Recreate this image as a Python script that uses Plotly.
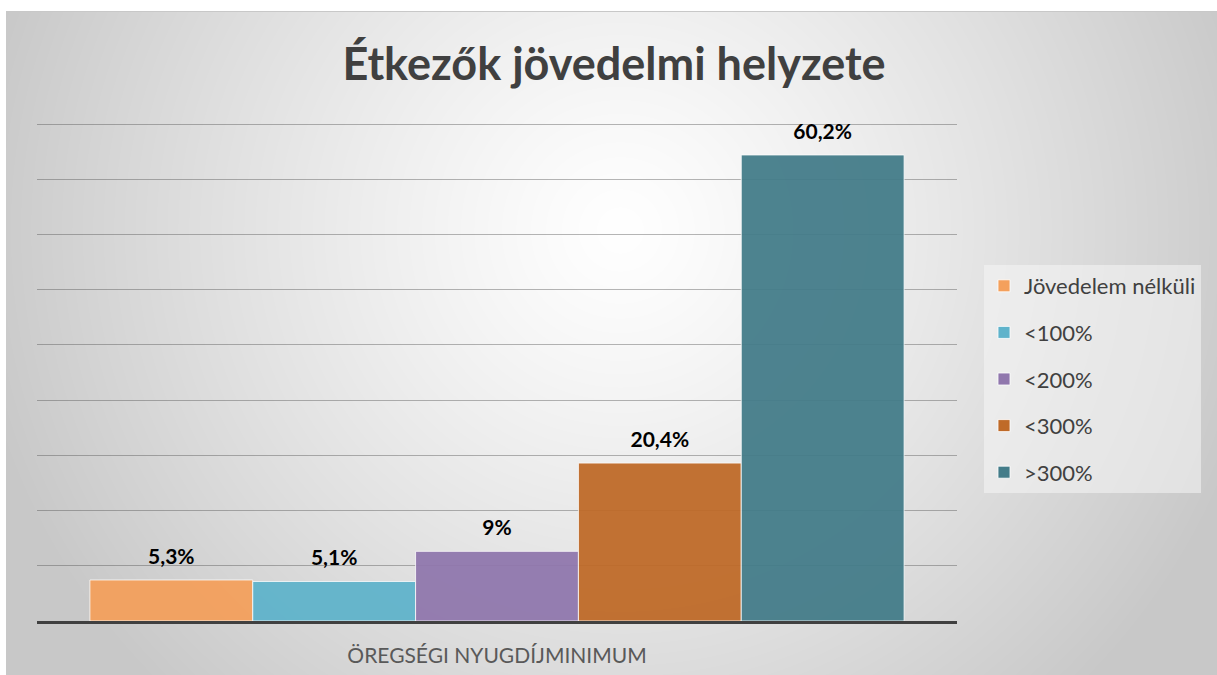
import base64, struct, zlib
import numpy as np
import plotly.graph_objects as go

# ---- data ----
category = ["ÖREGSÉGI NYUGDÍJMINIMUM"]
series_names = ["Jövedelem nélküli", "<100%", "<200%", "<300%", ">300%"]
series_values = [5.3, 5.1, 9, 20.4, 60.2]
series_colors = ["#F4A05C", "#5FB3CB", "#9077AD", "#BF6A28", "#437C89"]
title_text = "Étkezők jövedelmi helyzete"
grid_step = 64.2 / 9   # spacing of the horizontal gridlines (value units)
grid_count = 9

# ---- geometry ----
W, H = 1217, 675
ML, MR, MT, MB = 37, 260, 110, 54
PW, PH = W - ML - MR, H - MT - MB
TOP_GRID_PX = 124      # pixel row of the highest gridline
BG_X0, BG_Y0 = 6, 11   # gray panel origin (pixels)
FONT = "Lato, sans-serif"

y_top = grid_step * grid_count * PH / ((H - MB) - TOP_GRID_PX)


def gradient_png():
    w, h = W - BG_X0, H - BG_Y0
    ys, xs = np.mgrid[0:h, 0:w].astype(float)
    xs += BG_X0
    ys += BG_Y0
    cx, cy, rx, ry = 620.0, 230.0, 660.0, 650.0
    r = np.sqrt(((xs - cx) / rx) ** 2 + ((ys - cy) / ry) ** 2)
    val = 255 - 55 * np.clip(r, 0, 1) ** 1.2
    arr = np.clip(val, 0, 255).astype(np.uint8)
    arr[0, :] = 200
    raw = b"".join(b"\x00" + arr[i].tobytes() for i in range(h))

    def chunk(t, d):
        c = struct.pack(">I", len(d)) + t + d
        return c + struct.pack(">I", zlib.crc32(t + d) & 0xFFFFFFFF)

    png = b"\x89PNG\r\n\x1a\n"
    png += chunk(b"IHDR", struct.pack(">IIBBBBB", w, h, 8, 0, 0, 0, 0))
    png += chunk(b"IDAT", zlib.compress(raw, 9))
    png += chunk(b"IEND", b"")
    return "data:image/png;base64," + base64.b64encode(png).decode()


def fmt(v):
    return f"{v:g}".replace(".", ",") + "%"


fig = go.Figure()
for i, (name, val, col) in enumerate(zip(series_names, series_values, series_colors)):
    fig.add_trace(go.Bar(
        name=name, x=category, y=[val],
        marker=dict(color=col, opacity=0.94, line=dict(color="rgba(255,255,255,0.8)", width=1)),
        legendgroup=f"g{i}", hoverinfo="skip",
    ))
for i, (name, val) in enumerate(zip(series_names, series_values)):
    fig.add_trace(go.Scatter(
        x=category, y=[val], mode="markers+text", text=[fmt(val)],
        textposition="top center", cliponaxis=False, showlegend=False,
        marker=dict(size=16, color="rgba(0,0,0,0)"),
        textfont=dict(family=FONT, size=21, color="#000000", weight="bold"),
        hoverinfo="skip",
    ))

fig.update_layout(
    width=W, height=H,
    margin=dict(l=ML, r=MR, t=MT, b=MB, pad=0, autoexpand=False),
    paper_bgcolor="white", plot_bgcolor="rgba(0,0,0,0)",
    barmode="group", bargap=0.115, bargroupgap=0,
    scattermode="group", scattergap=0.115,
    title=dict(text=title_text, x=614 / W, xanchor="center", y=1 - 64 / H, yanchor="middle",
               font=dict(family=FONT, size=45, color="#404040", weight="bold")),
    font=dict(family=FONT, color="#404040"),
    showlegend=True,
    legend=dict(x=(984 - ML) / PW, xanchor="left", y=(H - MB - 265) / PH, yanchor="top",
                bgcolor="rgba(245,245,245,0.55)", borderwidth=0,
                font=dict(family=FONT, size=22, color="#404040"),
                tracegroupgap=15, itemwidth=30),
    images=[dict(source=gradient_png(), xref="paper", yref="paper",
                 x=(BG_X0 - ML) / PW, y=(H - MB - BG_Y0) / PH,
                 sizex=(W - BG_X0) / PW, sizey=(H - BG_Y0) / PH,
                 xanchor="left", yanchor="top", sizing="stretch", layer="below")],
)
fig.update_xaxes(showline=True, linecolor="#404040", linewidth=3, ticks="", automargin=False,
                 tickfont=dict(family=FONT, size=21, color="#595959"),
                 ticklabelstandoff=14, showgrid=False)
fig.update_yaxes(range=[0, y_top], tick0=0, dtick=grid_step, showticklabels=False, showgrid=True,
                 automargin=False, gridcolor="rgba(80,80,80,0.42)", gridwidth=1,
                 zeroline=False, showline=False, ticks="")

fig.write_html("out.html", config={"displayModeBar": False},
               post_script="document.body.style.margin='0px';")
